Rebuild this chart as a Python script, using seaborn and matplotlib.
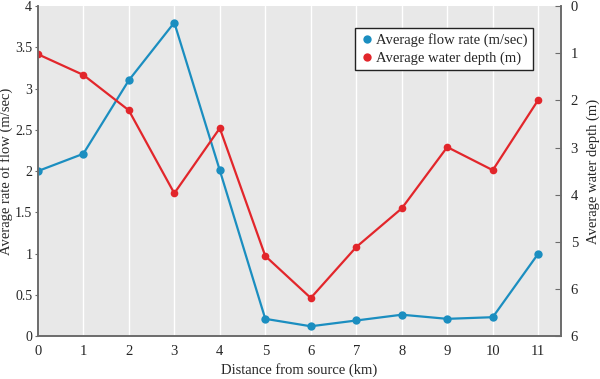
import numpy as np
import pandas as pd
import seaborn as sns
import matplotlib.pyplot as plt
from matplotlib.lines import Line2D

# data
distance = [0, 1, 2, 3, 4, 5, 6, 7, 8, 9, 10, 11]
flow_rate = [2.0, 2.21, 3.10, 3.80, 2.01, 0.21, 0.12, 0.19, 0.26, 0.21, 0.23, 1.00]
water_depth = [1.02, 1.46, 2.21, 3.97, 2.59, 5.30, 6.19, 5.11, 4.29, 2.99, 3.48, 1.99]
depth_ticks = [0, 1, 2, 3, 4, 5, 6, 7]
depth_tick_labels = ["0", "1", "2", "3", "4", "5", "6", "6"]

df = pd.DataFrame({"distance": distance, "flow": flow_rate, "depth": water_depth})

sns.set_style("white")
plt.rcParams["font.family"] = ["Liberation Serif", "DejaVu Serif"]
plt.rcParams["font.size"] = 11

blue = "#1b8ec0"
red = "#e2262b"
spine = "#6b6b6b"

fig, ax = plt.subplots(figsize=(6, 3.79), dpi=100)
fig.subplots_adjust(left=0.063, right=0.935, top=0.984, bottom=0.113)
ax.set_facecolor("#e8e8e8")

ax2 = ax.twinx()

sns.lineplot(data=df, x="distance", y="flow", ax=ax, color=blue, marker="o",
             markersize=6, markeredgewidth=0, linewidth=1.6)
sns.lineplot(data=df, x="distance", y="depth", ax=ax2, color=red, marker="o",
             markersize=5.5, markeredgewidth=0, linewidth=1.6)

ax.set_xlim(0, 11.5)
ax.set_ylim(0, 4)
ax.set_xticks(distance)
ax.set_yticks([0, 0.5, 1, 1.5, 2, 2.5, 3, 3.5, 4])
ax.set_yticklabels(["0", "0.5", "1", "1.5", "2", "2.5", "3", "3.5", "4"])
ax.grid(axis="x", color="white", linewidth=1)
ax.grid(axis="y", visible=False)
ax.set_axisbelow(True)

ax2.set_ylim(7, 0)
ax2.set_yticks(depth_ticks)
ax2.set_yticklabels(depth_tick_labels)

ax.set_xlabel("Distance from source (km)", fontsize=10.5, labelpad=4)
ax.set_ylabel("Average rate of flow (m/sec)", fontsize=10.5)
ax.yaxis.set_label_coords(-0.048, 0.5)
ax2.set_ylabel("Average water depth (m)", fontsize=10.5, labelpad=6)

for a in (ax, ax2):
    for s in a.spines.values():
        s.set_color(spine)
        s.set_linewidth(1.2)
    a.spines["top"].set_visible(False)
    a.tick_params(direction="in", length=4, color=spine, labelsize=10.5, pad=5)

ax.tick_params(axis="x", pad=6)
ax.tick_params(axis="y", direction="out", length=2, pad=2, labelsize=10)
ax2.tick_params(axis="y", pad=7)

# legend
handles = [Line2D([], [], color=blue, marker="o", linestyle="", markersize=6, markeredgewidth=0),
           Line2D([], [], color=red, marker="o", linestyle="", markersize=6, markeredgewidth=0)]
leg = ax2.legend(handles, ["Average flow rate (m/sec)", "Average water depth (m)"],
                 loc="upper right", bbox_to_anchor=(0.96, 0.955), fontsize=10.5,
                 frameon=True, fancybox=False, handletextpad=0.1, borderpad=0.35,
                 labelspacing=0.3, handlelength=1.0)
leg.get_frame().set_edgecolor("#222222")
leg.get_frame().set_facecolor("white")
leg.get_frame().set_linewidth(1)
leg.get_frame().set_alpha(1)

fig.savefig("out.png", dpi=100)
